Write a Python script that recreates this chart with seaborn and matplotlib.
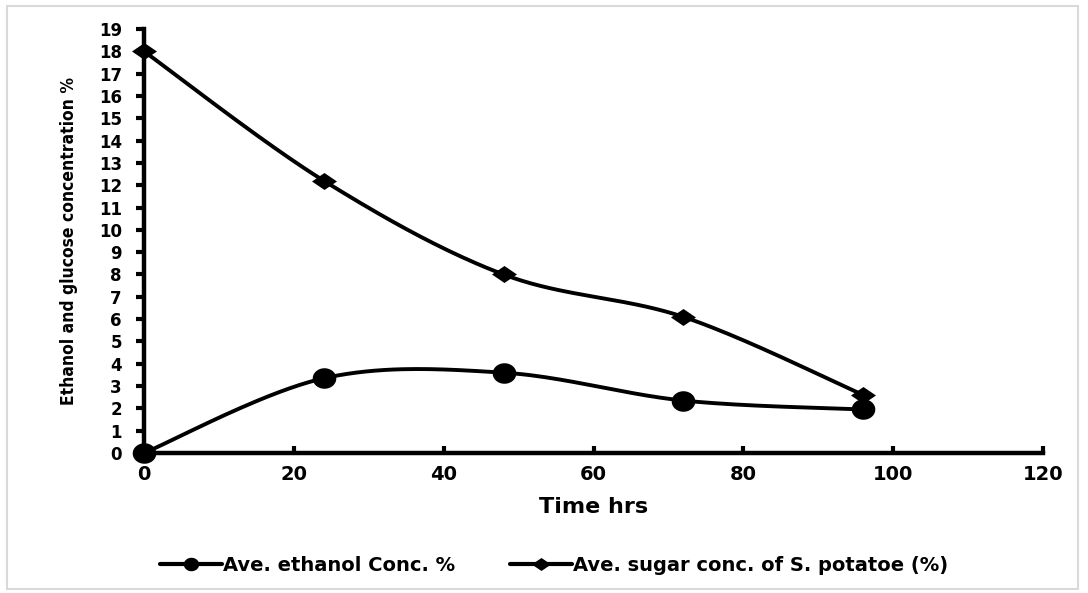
import numpy as np
import matplotlib
matplotlib.use("Agg")
import matplotlib.pyplot as plt
import seaborn as sns
import pandas as pd
from matplotlib.patches import Rectangle
from matplotlib.lines import Line2D
from matplotlib.path import Path

time_hrs = [0, 24, 48, 72, 96]
ethanol = [0.0, 3.35, 3.6, 2.35, 1.95]
sugar = [18.0, 12.2, 8.0, 6.1, 2.6]
ethanol_label = "Ave. ethanol Conc. %"
sugar_label = "Ave. sugar conc. of S. potatoe (%)"
x_ticks = [0, 20, 40, 60, 80, 100, 120]
y_ticks = list(range(0, 20))

sns.set_theme(style="white")
plt.rcParams["font.family"] = ["DejaVu Sans"]
for k in ["text.color", "axes.labelcolor", "xtick.color", "ytick.color", "axes.edgecolor"]:
    plt.rcParams[k] = "black"


def smooth(x, y, n=40):
    # Excel-style smoothed line: cubic Bezier with Catmull-Rom control points
    x = np.asarray(x, float); y = np.asarray(y, float)
    px = np.concatenate([[x[0]], x, [x[-1]]])
    py = np.concatenate([[y[0]], y, [y[-1]]])
    xs, ys = [], []
    t = np.linspace(0, 1, n)
    for i in range(1, len(px) - 2):
        p0 = np.array([px[i], py[i]]); p3 = np.array([px[i + 1], py[i + 1]])
        p1 = p0 + (np.array([px[i + 1], py[i + 1]]) - np.array([px[i - 1], py[i - 1]])) / 6
        p2 = p3 - (np.array([px[i + 2], py[i + 2]]) - np.array([px[i], py[i]])) / 6
        b = ((1 - t) ** 3)[:, None] * p0 + (3 * (1 - t) ** 2 * t)[:, None] * p1 \
            + (3 * (1 - t) * t ** 2)[:, None] * p2 + (t ** 3)[:, None] * p3
        xs.extend(b[:, 0]); ys.extend(b[:, 1])
    return np.array(xs), np.array(ys)


# slightly wide marker shapes (the reference looks horizontally stretched)
ang = np.linspace(0, 2 * np.pi, 60)
ellipse_marker = Path(np.column_stack([np.cos(ang), 0.87 * np.sin(ang)]), closed=True)
diamond_marker = Path([(-1, 0), (0, 0.68), (1, 0), (0, -0.68), (-1, 0)], closed=True)

fig = plt.figure(figsize=(10.88, 5.93), dpi=100)
ax = fig.add_axes([0.1324, 0.2361, 0.8262, 0.7149])

for yv, mk, ms in [(ethanol, ellipse_marker, 17), (sugar, diamond_marker, 18)]:
    sx, sy = smooth(time_hrs, yv)
    ax.plot(sx, sy, color="black", lw=2.8, zorder=3, clip_on=False, solid_capstyle="round")
    df = pd.DataFrame({"t": time_hrs, "v": yv})
    sns.scatterplot(data=df, x="t", y="v", marker=mk, s=ms ** 2, color="black",
                    edgecolor="black", linewidth=0, ax=ax, zorder=4, clip_on=False, legend=False)

ax.set_xlim(0, 120)
ax.set_ylim(0, 19)
ax.set_xticks(x_ticks)
ax.set_yticks(y_ticks)
ax.set_xticklabels([str(v) for v in x_ticks], fontsize=14, fontweight="bold")
ax.set_yticklabels([str(v) for v in y_ticks], fontsize=12, fontweight="bold")
ax.tick_params(axis="y", direction="out", length=6, width=3, pad=10, left=True)
ax.tick_params(axis="x", direction="in", length=5, width=3, pad=9, bottom=True)
for s in ["top", "right"]:
    ax.spines[s].set_visible(False)
for s in ["left", "bottom"]:
    ax.spines[s].set_linewidth(3.2)
ax.set_xlabel("Time hrs", fontsize=16, fontweight="bold", labelpad=9)
ax.set_ylabel("Ethanol and glucose concentration %", fontsize=12.5, fontweight="heavy",
              fontstretch="condensed")
ax.yaxis.set_label_coords(-0.074, 0.5)

handles = [
    Line2D([0], [0], color="black", lw=3, marker=ellipse_marker, markersize=10),
    Line2D([0], [0], color="black", lw=3, marker=diamond_marker, markersize=12),
]
fig.legend(handles, [ethanol_label, sugar_label], loc="center", bbox_to_anchor=(0.509, 0.047),
           ncol=2, frameon=False, prop={"weight": "bold", "size": 14},
           handlelength=3.2, handletextpad=0.05, columnspacing=2.8)

fig.patches.append(Rectangle((0.006, 0.006), 0.985, 0.984, transform=fig.transFigure,
                             fill=False, edgecolor="#d9d9d9", lw=1.5))

fig.savefig("out.png", dpi=100)
